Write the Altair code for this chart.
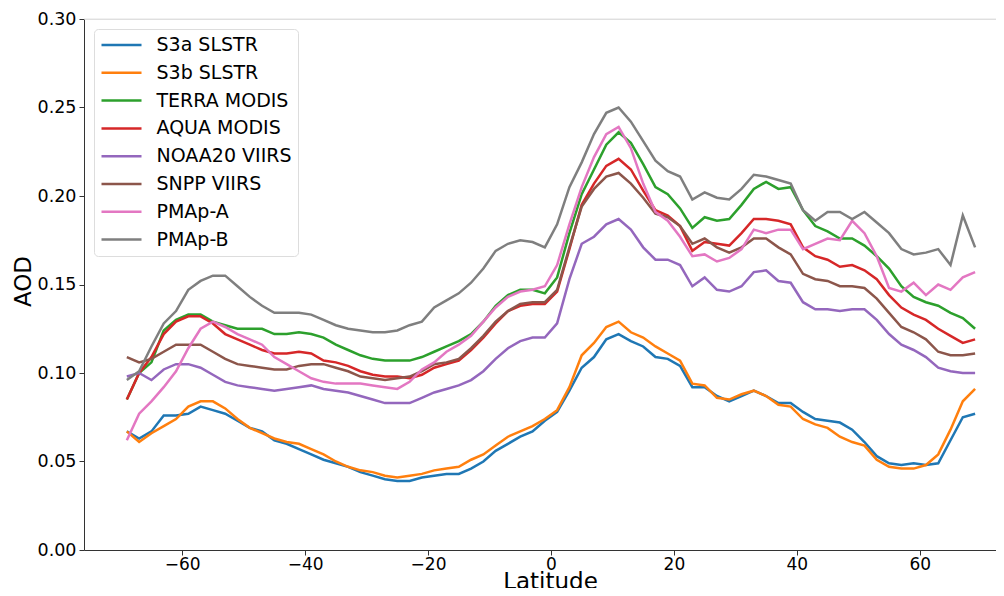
import altair as alt
import pandas as pd

lat = list(range(-69, 70, 2))

s3a = [0.067, 0.063, 0.067, 0.076, 0.076, 0.077, 0.081, 0.079, 0.077, 0.073, 0.069, 0.067, 0.062, 0.060, 0.057, 0.054, 0.051, 0.049,
       0.047, 0.044, 0.042, 0.040,
       0.039, 0.039, 0.041, 0.042, 0.043, 0.043, 0.046, 0.050, 0.056, 0.060, 0.064, 0.067, 0.073,
       0.078, 0.090, 0.103, 0.109, 0.119, 0.122, 0.118, 0.115, 0.109, 0.108, 0.104, 0.092, 0.092, 0.087, 0.084, 0.087, 0.090, 0.087,
       0.083, 0.083, 0.078, 0.074, 0.073, 0.072, 0.068, 0.061, 0.053, 0.049, 0.048, 0.049, 0.048, 0.049, 0.062, 0.075, 0.077]

s3b = [0.067, 0.061, 0.066, 0.070, 0.074, 0.081, 0.084, 0.084, 0.080, 0.074, 0.069, 0.066, 0.063, 0.061, 0.060, 0.057, 0.054, 0.050,
       0.047, 0.045, 0.044, 0.042,
       0.041, 0.042, 0.043, 0.045, 0.046, 0.047, 0.051, 0.054, 0.059, 0.064, 0.067, 0.070, 0.074,
       0.079, 0.092, 0.110, 0.117, 0.126, 0.129, 0.123, 0.120, 0.115, 0.111, 0.107, 0.094, 0.093, 0.086, 0.085, 0.088, 0.090, 0.087,
       0.082, 0.081, 0.074, 0.071, 0.069, 0.064, 0.061, 0.059, 0.051, 0.047, 0.046, 0.046, 0.048, 0.054, 0.068, 0.084, 0.091]

terra = [0.085, 0.100, 0.106, 0.124, 0.130, 0.133, 0.133, 0.129, 0.127, 0.125, 0.125, 0.125, 0.122, 0.122, 0.123, 0.122, 0.120, 0.116,
         0.113, 0.110, 0.108, 0.107,
         0.107, 0.107, 0.109, 0.112, 0.115, 0.118, 0.122, 0.129, 0.138, 0.144, 0.147, 0.147, 0.145,
         0.154, 0.179, 0.201, 0.215, 0.229, 0.236, 0.230, 0.218, 0.205, 0.201, 0.193, 0.182, 0.188, 0.186, 0.187, 0.195, 0.204, 0.208,
         0.204, 0.205, 0.192, 0.183, 0.180, 0.176, 0.176, 0.172, 0.166, 0.159, 0.149, 0.143, 0.140, 0.138, 0.134, 0.131, 0.125]

aqua = [0.085, 0.100, 0.109, 0.122, 0.129, 0.132, 0.132, 0.128, 0.122, 0.119, 0.116, 0.113, 0.111, 0.111, 0.112, 0.111, 0.107, 0.106,
        0.104, 0.101, 0.099, 0.098,
        0.098, 0.097, 0.099, 0.103, 0.105, 0.107, 0.113, 0.120, 0.128, 0.135, 0.138, 0.139, 0.139,
        0.146, 0.170, 0.195, 0.207, 0.217, 0.221, 0.215, 0.203, 0.192, 0.189, 0.183, 0.169, 0.174, 0.173, 0.172, 0.179, 0.187, 0.187,
        0.186, 0.184, 0.171, 0.166, 0.164, 0.160, 0.161, 0.158, 0.153, 0.144, 0.137, 0.133, 0.130, 0.125, 0.121, 0.117, 0.119]

noaa20 = [0.098, 0.100, 0.096, 0.102, 0.105, 0.105, 0.103, 0.099, 0.095, 0.093, 0.092, 0.091, 0.090, 0.091, 0.092, 0.093, 0.091, 0.090,
          0.089, 0.087, 0.085, 0.083,
          0.083, 0.083, 0.086, 0.089, 0.091, 0.093, 0.096, 0.101, 0.108, 0.114, 0.118, 0.120, 0.120,
          0.128, 0.153, 0.173, 0.177, 0.184, 0.187, 0.181, 0.171, 0.164, 0.164, 0.161, 0.149, 0.154, 0.147, 0.146, 0.149, 0.157, 0.158,
          0.152, 0.151, 0.140, 0.136, 0.136, 0.135, 0.136, 0.136, 0.130, 0.122, 0.116, 0.113, 0.109, 0.103, 0.101, 0.100, 0.100]

snpp = [0.109, 0.106, 0.108, 0.112, 0.116, 0.116, 0.116, 0.112, 0.108, 0.105, 0.104, 0.103, 0.102, 0.102, 0.104, 0.105, 0.105, 0.103,
        0.101, 0.098, 0.097, 0.096,
        0.097, 0.098, 0.101, 0.105, 0.106, 0.108, 0.114, 0.121, 0.129, 0.135, 0.139, 0.140, 0.140,
        0.147, 0.171, 0.194, 0.204, 0.211, 0.213, 0.207, 0.199, 0.190, 0.188, 0.183, 0.173, 0.176, 0.171, 0.168, 0.171, 0.176, 0.176,
        0.171, 0.167, 0.156, 0.153, 0.152, 0.149, 0.149, 0.148, 0.142, 0.134, 0.126, 0.123, 0.119, 0.112, 0.110, 0.110, 0.111]

pmap_a = [0.062, 0.077, 0.084, 0.092, 0.101, 0.114, 0.125, 0.129, 0.126, 0.122, 0.119, 0.116, 0.109, 0.105, 0.101, 0.097, 0.095, 0.094,
          0.094, 0.094, 0.093, 0.092,
          0.091, 0.095, 0.102, 0.106, 0.112, 0.116, 0.121, 0.129, 0.137, 0.143, 0.146, 0.147, 0.149,
          0.161, 0.184, 0.205, 0.222, 0.235, 0.239, 0.227, 0.207, 0.191, 0.186, 0.177, 0.166, 0.167, 0.163, 0.165, 0.170, 0.181, 0.179,
          0.181, 0.181, 0.170, 0.173, 0.176, 0.175, 0.186, 0.179, 0.166, 0.148, 0.146, 0.151, 0.144, 0.150, 0.147, 0.154, 0.157]

pmap_b = [0.096, 0.101, 0.115, 0.128, 0.135, 0.147, 0.152, 0.155, 0.155, 0.149, 0.143, 0.138, 0.134, 0.134, 0.134, 0.133, 0.130, 0.127,
          0.125, 0.124, 0.123, 0.123,
          0.124, 0.127, 0.129, 0.137, 0.141, 0.145, 0.151, 0.159, 0.169, 0.173, 0.175, 0.174, 0.171,
          0.184, 0.205, 0.219, 0.235, 0.247, 0.250, 0.242, 0.231, 0.220, 0.214, 0.211, 0.198, 0.202, 0.199, 0.198, 0.204, 0.212, 0.211,
          0.209, 0.207, 0.192, 0.186, 0.191, 0.191, 0.187, 0.191, 0.185, 0.179, 0.170, 0.167, 0.168, 0.170, 0.161, 0.189, 0.171]

series_names = ["S3a SLSTR", "S3b SLSTR", "TERRA MODIS", "AQUA MODIS",
                "NOAA20 VIIRS", "SNPP VIIRS", "PMAp-A", "PMAp-B"]
series_values = [s3a, s3b, terra, aqua, noaa20, snpp, pmap_a, pmap_b]
colors = ["#1f77b4", "#ff7f0e", "#2ca02c", "#d62728",
          "#9467bd", "#8c564b", "#e377c2", "#7f7f7f"]

x_ticks = [-60, -40, -20, 0, 20, 40, 60]
y_ticks = [0.0, 0.05, 0.10, 0.15, 0.20, 0.25, 0.30]

rows = []
for order, (name, vals) in enumerate(zip(series_names, series_values)):
    for la, v in zip(lat, vals):
        rows.append({"lat": la, "aod": v, "series": name, "k": order})
df = pd.DataFrame(rows)

FONT = "DejaVu Sans"

x_enc = alt.X(
    "lat:Q",
    scale=alt.Scale(domain=[-75.97, 72.4], nice=False, zero=False),
    axis=alt.Axis(values=x_ticks, title="Latitude", format="d",
                  titleFont=FONT, titleFontSize=23, titleFontWeight="normal",
                  titleColor="black", titleX=466, titleY=38,
                  titleBaseline="alphabetic",
                  labelFont=FONT, labelFontSize=17, labelColor="black",
                  labelPadding=1, tickSize=5, tickColor="#333333",
                  domainColor="#333333", grid=False, labelFlush=False),
)
y_enc = alt.Y(
    "aod:Q",
    scale=alt.Scale(domain=[0, 0.30], nice=False),
    axis=alt.Axis(values=y_ticks, title="AOD", format=".2f",
                  titleFont=FONT, titleFontSize=23, titleFontWeight="normal",
                  titleColor="black", titleX=-54, titleY=262,
                  titleBaseline="alphabetic", titleAngle=270,
                  labelFont=FONT, labelFontSize=17.5, labelColor="black",
                  labelPadding=3, tickSize=5, tickColor="#333333",
                  domainColor="#333333", grid=False, labelFlush=False),
)

lines = alt.Chart(df).mark_line(strokeWidth=2.5, clip=True).encode(
    x=x_enc,
    y=y_enc,
    color=alt.Color(
        "series:N",
        sort=series_names,
        scale=alt.Scale(domain=series_names, range=colors),
        legend=alt.Legend(
            title=None, orient="none", legendX=10, legendY=10,
            symbolType="stroke", symbolStrokeWidth=2.5, symbolSize=1600,
            symbolOffset=0, clipHeight=20, rowPadding=7.8,
            labelFont=FONT, labelFontSize=19, labelColor="black",
            labelOffset=13.5, padding=6, fillColor="white",
            strokeColor="#dddddd", cornerRadius=4, labelLimit=300,
        ),
    ),
    order=alt.Order("k:Q"),
)

top_line = alt.Chart(pd.DataFrame({"top": [0.30]})).mark_rule(
    color="#e2e2e2", strokeWidth=1
).encode(y=alt.Y("top:Q"))

chart = alt.layer(top_line, lines).properties(
    width=912, height=531,
    autosize=alt.AutoSizeParams(type="none"),
    padding={"left": 76, "top": 11, "right": 0, "bottom": 38},
).configure_view(stroke=None).configure(background="white")

chart.save("out.html", embed_options={"renderer": "svg", "actions": False})
